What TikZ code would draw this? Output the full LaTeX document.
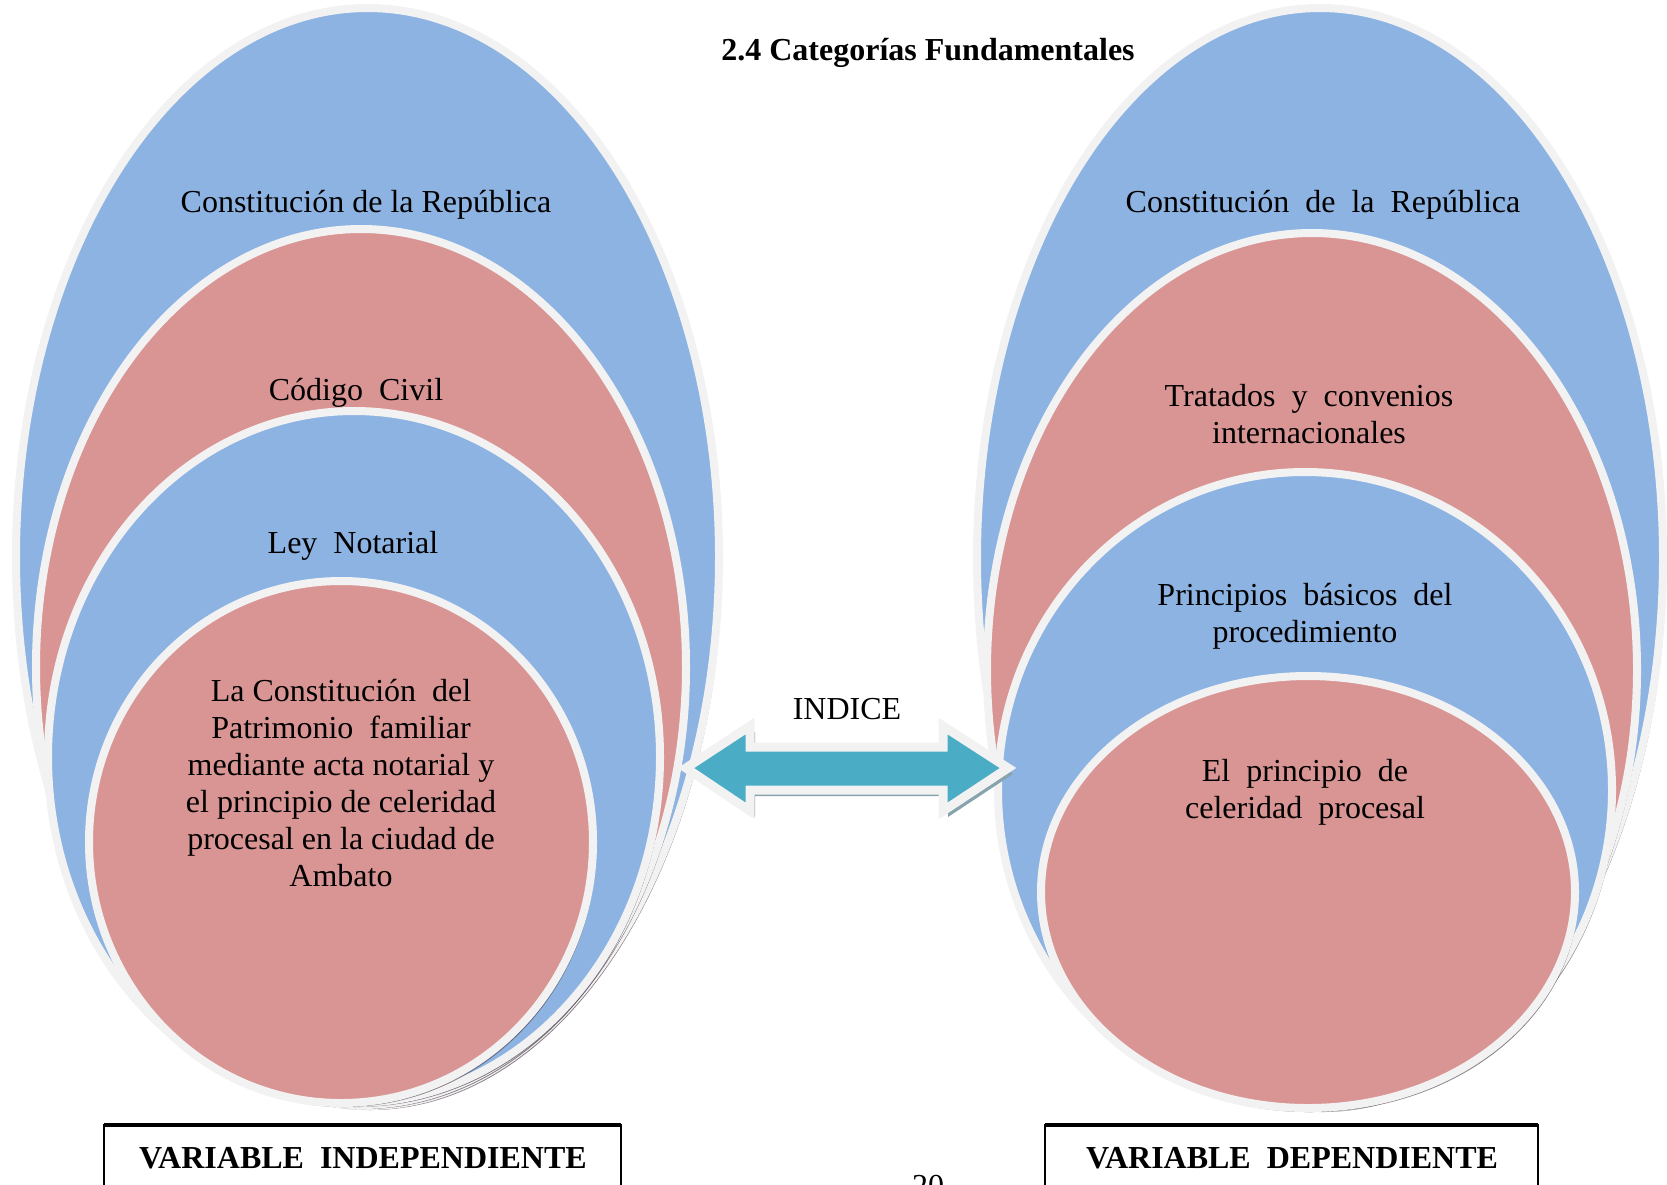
\documentclass[tikz,border=0pt]{standalone}
\usepackage{fontspec}
\setmainfont{Liberation Serif}
\definecolor{azul}{HTML}{8DB3E2}
\definecolor{rojo}{HTML}{D99594}
\definecolor{borde}{HTML}{F2F2F2}
\definecolor{turquesa}{HTML}{4BACC6}
\definecolor{oscuro}{HTML}{4A3A4A}
\definecolor{sombraflecha}{HTML}{86A3AE}
\tikzset{
  capa/.style={draw=borde, line width=0.08cm},
  sombra/.style={fill=oscuro, opacity=.65},
  texto/.style={font=\fontsize{9.1}{10.5}\selectfont, align=center, inner sep=0pt},
  titulo/.style={font=\fontsize{9.1}{10.5}\selectfont\bfseries, inner sep=0pt}
}
\begin{document}
\begin{tikzpicture}[x=0.01cm, y=-0.01cm]
\useasboundingbox (0,0) rectangle (1667,1184);
%% Variable independiente: cuatro capas, de la mayor a la menor
\fill[sombra, shift={(3,4)}] (367.5,557) ellipse [x radius=351.5, y radius=549];
\filldraw[capa, fill=azul] (367.5,557) ellipse [x radius=351.5, y radius=549];
\fill[sombra, shift={(3,4)}] (361,667) ellipse [x radius=325, y radius=438];
\filldraw[capa, fill=rojo] (361,667) ellipse [x radius=325, y radius=438];
\fill[sombra, shift={(3,4)}] (354,757) ellipse [x radius=306, y radius=346];
\filldraw[capa, fill=azul] (354,757) ellipse [x radius=306, y radius=346];
\fill[sombra, shift={(3,4)}] (341,842) ellipse [x radius=252, y radius=261];
\filldraw[capa, fill=rojo] (341,842) ellipse [x radius=252, y radius=261];
%% Variable dependiente
\fill[sombra, shift={(3,4)}] (1320,558) ellipse [x radius=343, y radius=550];
\filldraw[capa, fill=azul] (1320,558) ellipse [x radius=343, y radius=550];
\fill[sombra, shift={(3,4)}] (1312,670) ellipse [x radius=325, y radius=437];
\filldraw[capa, fill=rojo] (1312,670) ellipse [x radius=325, y radius=437];
\fill[sombra, shift={(3,4)}] (1305,790) ellipse [x radius=307, y radius=318];
\filldraw[capa, fill=azul] (1305,790) ellipse [x radius=307, y radius=318];
\fill[sombra, shift={(3,4)}] (1308,892) ellipse [x radius=267, y radius=216];
\filldraw[capa, fill=rojo] (1308,892) ellipse [x radius=267, y radius=216];
%% Flecha doble entre las dos variables
\fill[sombraflecha, shift={(5,6)}] (686,768) -- (750,726) -- (750,747) -- (943,747) -- (943,726)
  -- (1008,768) -- (943,811) -- (943,790) -- (750,790) -- (750,811) -- cycle;
\filldraw[draw=borde, line width=0.09cm, fill=turquesa, line join=miter] (686,768) -- (750,726)
  -- (750,747) -- (943,747) -- (943,726) -- (1008,768) -- (943,811) -- (943,790) -- (750,790)
  -- (750,811) -- cycle;
\node[texto] (indice) at (847,709) {INDICE};
%% Textos
\node[titulo] (titulo) at (928,53) {2.4 Categorías Fundamentales};
\node[texto] (constI) at (366,205) {Constitución de la República};
\node[texto] (codigo) at (356,393) {Código~~Civil};
\node[texto] (ley) at (353,546) {Ley~~Notarial};
\node[texto] (tema) at (341,783) {La Constitución~~del\\Patrimonio~~familiar\\mediante acta notarial y\\el principio de celeridad\\procesal en la ciudad de\\Ambato};
\node[texto] (constD) at (1323,205) {Constitución~~de~~la~~República};
\node[texto] (tratados) at (1309,414) {Tratados~~y~~convenios\\internacionales};
\node[texto] (principios) at (1305,616) {Principios~~básicos~~del\\procedimiento};
\node[texto] (celeridad) at (1305,792) {El~~principio~~de\\celeridad~~procesal};
%% Recuadros de las variables (cortados por el borde de la página)
\draw[line width=0.6pt] (104,1200) -- (104,1125) -- (621,1125) -- (621,1200);
\draw[line width=1.2pt] (104,1125) -- (621,1125);
\node[titulo] (varind) at (363,1158) {VARIABLE~~INDEPENDIENTE};
\draw[line width=0.6pt] (1045,1200) -- (1045,1125) -- (1538,1125) -- (1538,1200);
\draw[line width=1.2pt] (1045,1125) -- (1538,1125);
\node[titulo] (vardep) at (1292,1158) {VARIABLE~~DEPENDIENTE};
\node[texto, anchor=north] (pagina) at (928,1174) {20};
\end{tikzpicture}
\end{document}
